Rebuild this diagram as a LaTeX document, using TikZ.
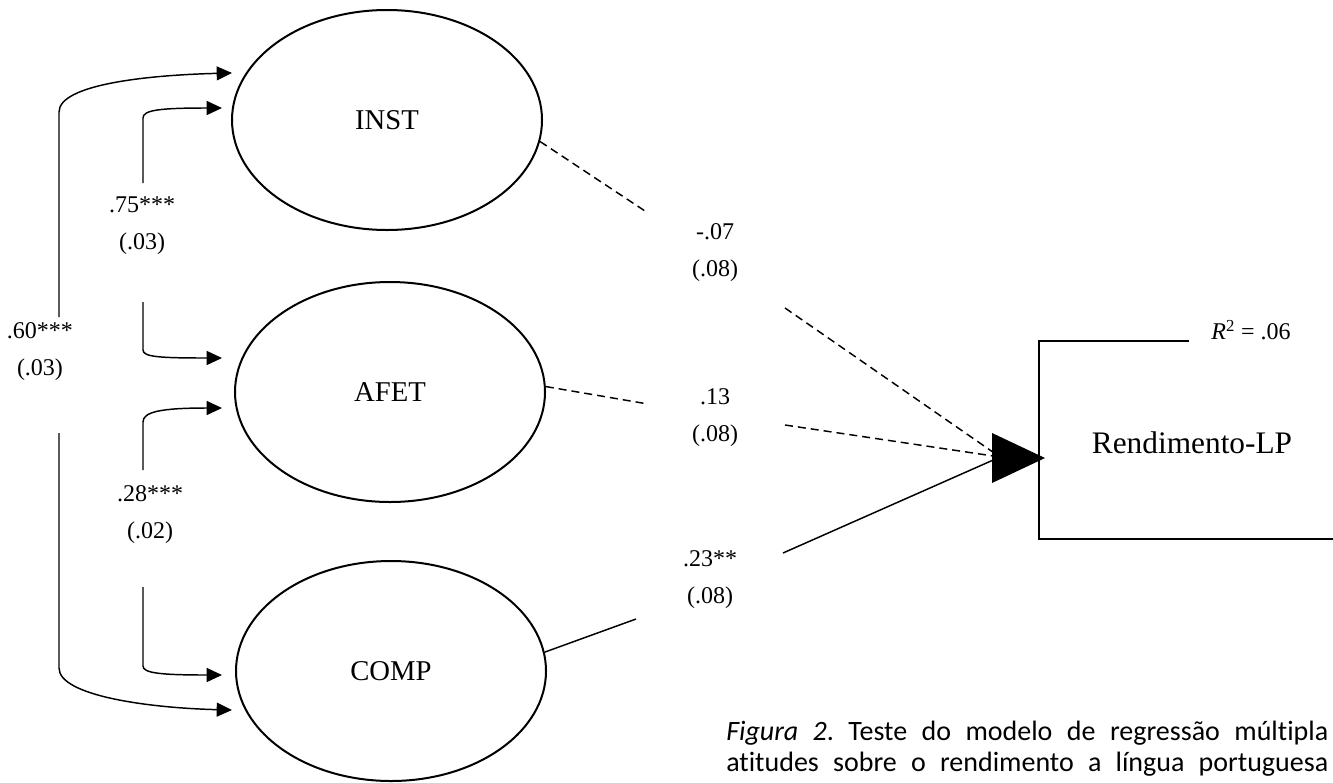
\documentclass[tikz,border=0pt]{standalone}
\usepackage{fontspec}
\setmainfont{Liberation Serif}
\newfontfamily\capfont[Ligatures=NoCommon]{Carlito}
\usetikzlibrary{shapes.geometric,arrows.meta,calc}
\begin{document}
\frenchspacing
\begin{tikzpicture}[x=0.75pt,y=-0.75pt,
  latent/.style={draw,ellipse,line width=1.5pt,minimum width=232.5pt,minimum height=165pt,inner sep=0pt,font=\fontsize{21.5}{24}\selectfont},
  coef/.style={align=center,font=\fontsize{18}{27.75}\selectfont,inner sep=0pt},
  cov/.style={line width=1.1pt,-{Triangle[length=11.5pt,width=10.5pt]}},
  pathd/.style={line width=1.1pt,dash pattern=on 6pt off 3.75pt},
  paths/.style={line width=1.1pt},
  boxline/.style={line width=1.5pt},
  captext/.style={inner sep=0pt,anchor=base west,font=\capfont\fontsize{21}{25}\selectfont}]
\useasboundingbox (0,0) rectangle (1333,782);
% latent variables
\node[latent] (INST) at (387,120) {INST};
\node[latent] (AFET) at (390,392) {AFET};
\node[latent] (COMP) at (391,671) {COMP};
% outcome
\node[inner sep=0pt,font=\fontsize{23.5}{26}\selectfont] (rend) at (1192,443) {Rendimento-LP};
\draw[boxline] (1189,341) -- (1039,341) -- (1039,539) -- (1333,539);
\node[inner sep=0pt,font=\fontsize{18}{20}\selectfont] (r2) at (1251,330) {\textit{R}\textsuperscript{2} = .06};
% coefficient labels
\node[coef] (l60) at (40,352) {.60***\\(.03)};
\node[coef] (l75) at (142,226) {.75***\\(.03)};
\node[coef] (l28) at (150,515) {.28***\\(.02)};
\node[coef] (l07) at (715,253) {-.07\\(.08)};
\node[coef] (l13) at (715,418) {.13\\(.08)};
\node[coef] (l23) at (710,580) {.23**\\(.08)};
% arrow end points at ellipses
\coordinate (i1) at (232,73);
\coordinate (i2) at (222,108);
\coordinate (a1) at (222,358);
\coordinate (a2) at (222,408);
\coordinate (c1) at (222,675);
\coordinate (c2) at (232,710);
% covariances
\draw[cov] (59,317) -- (59,112) .. controls (59,84) and (150,75) .. (i1);
\draw[cov] (59,433) -- (59,668) .. controls (59,696) and (150,708) .. (c2);
\draw[cov] (143,183) -- (143,118) .. controls (143,110) and (160,108) .. (i2);
\draw[cov] (143,302) -- (143,350) .. controls (143,357) and (160,358) .. (a1);
\draw[cov] (143,470) -- (143,422) .. controls (143,412) and (160,408) .. (a2);
\draw[cov] (143,587) -- (143,666) .. controls (143,673) and (160,675) .. (c1);
% regression paths
\coordinate (tip) at (1000,457);
\coordinate (p07a) at (648,213);
\coordinate (p07b) at (785,308);
\coordinate (p13a) at (648,404);
\coordinate (p13b) at (785,425);
\coordinate (p23a) at (636,619);
\coordinate (p23b) at (783,553);
\draw[pathd] (INST.-8) -- (p07a);
\draw[pathd] (p07b) -- (tip);
\draw[pathd] (AFET.2) -- (p13a);
\draw[pathd] (p13b) -- (tip);
\draw[paths] (COMP.7) -- (p23a);
\draw[paths] (p23b) -- (tip);
\fill (992,433) -- (1045,458) -- (992,483) -- cycle;
% caption
\node[captext] (cap1) at (726,740) {\makebox[451.5pt][s]{\textit{Figura 2}. Teste do modelo de regressão múltipla}};
\node[captext] (cap2) at (726,771) {\makebox[451.5pt][s]{atitudes sobre o rendimento a língua portuguesa}};
\end{tikzpicture}
\end{document}
